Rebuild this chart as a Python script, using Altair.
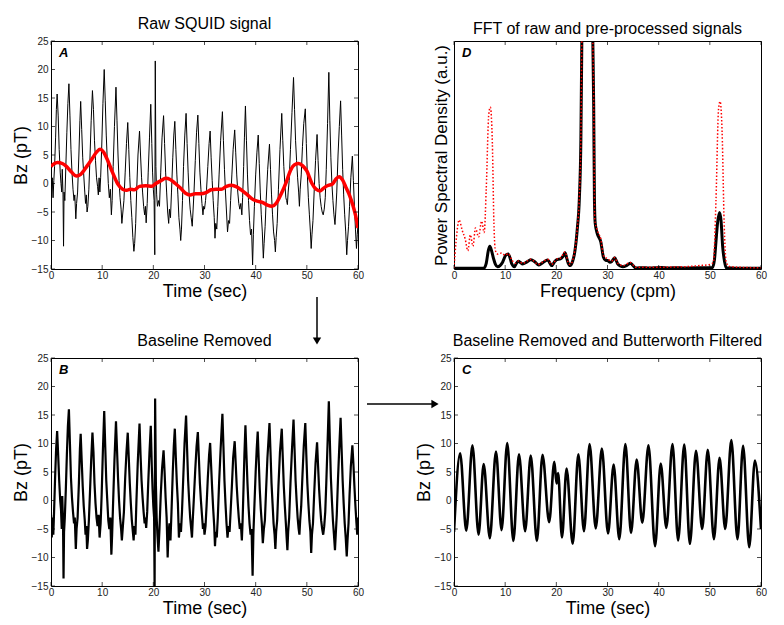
import altair as alt
import pandas as pd

# ---------------- data ----------------
x_ticks = [0, 10, 20, 30, 40, 50, 60]
bz_ticks = [-15, -10, -5, 0, 5, 10, 15, 20, 25]

# Panel A: raw SQUID signal (time s, Bz pT)
raw_pts = [
    (0.0, 2.0), (0.1, -2.0), (0.25, 1.0), (0.4, -2.5), (0.55, 0.5), (0.7, 3.0), (0.9, 8.0), (1.05, 13.0),
    (1.2, 15.7), (1.4, 12.0), (1.6, 6.0), (1.8, 2.0), (1.95, 0.0), (2.1, -1.5), (2.2, 2.5), (2.35, -2.0),
    (2.45, -11.0), (2.55, -1.5), (2.7, -3.0), (2.9, 3.0), (3.1, 9.0), (3.3, 14.0), (3.5, 17.5), (3.7, 12.0),
    (3.9, 6.0), (4.1, 2.0), (4.3, -1.0), (4.5, -3.0), (4.65, -2.0), (4.85, -6.2), (5.0, -3.5), (5.2, -1.5),
    (5.45, 5.0), (5.65, 11.0), (5.8, 14.4), (6.0, 9.5), (6.2, 4.5), (6.4, 1.5), (6.6, -1.5), (6.75, -3.5),
    (6.9, -2.0), (7.05, -5.0), (7.2, -4.0), (7.4, -1.0), (7.6, 4.0), (7.85, 11.0), (8.1, 16.3), (8.3, 13.0),
    (8.5, 7.5), (8.7, 4.0), (8.9, 1.0), (9.1, -0.5), (9.25, -2.0), (9.4, 1.0), (9.55, -1.5), (9.7, 1.0),
    (9.9, 6.0), (10.15, 14.0), (10.4, 20.0), (10.6, 14.5), (10.8, 8.5), (11.0, 4.0), (11.2, 0.0), (11.4, -2.5),
    (11.6, -1.0), (11.8, -5.5), (11.95, -3.0), (12.15, 3.0), (12.4, 10.0), (12.7, 16.9), (12.9, 11.0), (13.1, 5.0),
    (13.3, 0.5), (13.5, -2.5), (13.7, -4.5), (13.85, -7.0), (14.05, -5.0), (14.25, -3.0), (14.5, 2.0), (14.75, 7.0),
    (15.0, 10.7), (15.2, 6.0), (15.4, 1.0), (15.6, -3.0), (15.8, -6.0), (16.0, -9.5), (16.2, -11.9), (16.35, -10.5),
    (16.55, -7.0), (16.75, -1.0), (17.0, 5.0), (17.3, 9.2), (17.5, 5.0), (17.7, 1.0), (17.9, -1.5), (18.1, -4.0),
    (18.3, -5.5), (18.45, -4.0), (18.6, -6.9), (18.8, -3.5), (19.0, 2.0), (19.25, 8.0), (19.5, 13.9), (19.7, 7.0),
    (19.85, 2.0), (20.0, -1.0), (20.15, -3.0), (20.28, -12.5), (20.38, 21.5), (20.5, 3.0), (20.65, -2.0), (20.8, -4.0),
    (21.0, -3.0), (21.2, -4.0), (21.45, 2.0), (21.7, 8.0), (22.0, 11.9), (22.2, 7.0), (22.4, 2.0), (22.6, -1.5),
    (22.8, -5.0), (23.0, -7.0), (23.15, -4.5), (23.35, -6.0), (23.55, -1.5), (23.8, 4.5), (24.0, 8.5), (24.2, 10.9),
    (24.4, 6.0), (24.6, 1.5), (24.8, -2.0), (25.0, -6.0), (25.2, -8.0), (25.35, -10.0), (25.5, -8.0), (25.7, -3.0),
    (25.9, 3.0), (26.15, 8.5), (26.4, 12.3), (26.6, 7.0), (26.8, 2.0), (27.0, -2.0), (27.2, -4.5), (27.4, -6.0),
    (27.6, -7.5), (27.75, -5.0), (27.95, -1.5), (28.2, 4.0), (28.45, 9.0), (28.7, 12.0), (28.9, 7.0), (29.1, 2.0),
    (29.3, -1.0), (29.5, -3.5), (29.7, -5.5), (29.85, -4.0), (30.0, -4.5), (30.2, -3.0), (30.4, -1.0), (30.65, 3.0),
    (30.9, 7.0), (31.1, 9.2), (31.3, 4.5), (31.5, 0.5), (31.7, -3.0), (31.9, -6.0), (32.05, -9.6), (32.2, -7.0),
    (32.4, -8.0), (32.6, -4.0), (32.85, 1.5), (33.15, 7.5), (33.5, 12.6), (33.7, 7.5), (33.9, 2.5), (34.1, -1.5),
    (34.3, -5.0), (34.5, -8.5), (34.7, -6.5), (34.9, -7.0), (35.1, -3.0), (35.35, 1.5), (35.6, 6.0), (35.9, 9.4),
    (36.1, 5.5), (36.3, 1.5), (36.5, -1.5), (36.7, -3.5), (36.9, -4.5), (37.1, -3.5), (37.3, -5.5), (37.45, -2.5),
    (37.65, 3.0), (37.8, 8.0), (38.0, 13.6), (38.2, 7.5), (38.4, 1.5), (38.6, -3.0), (38.8, -6.5), (39.0, -9.0),
    (39.2, -8.0), (39.4, -14.3), (39.55, -9.0), (39.75, -4.0), (40.0, 1.5), (40.25, 5.5), (40.5, 8.5), (40.7, 3.5),
    (40.9, -1.5), (41.1, -5.5), (41.3, -8.5), (41.5, -13.1), (41.65, -10.5), (41.85, -7.5), (42.05, -3.0), (42.35, 2.5),
    (42.7, 6.9), (42.9, 2.5), (43.1, -2.0), (43.3, -5.5), (43.5, -8.5), (43.7, -10.0), (43.85, -12.0), (44.0, -9.5),
    (44.2, -7.0), (44.45, -1.0), (44.75, 6.0), (45.1, 12.3), (45.3, 7.5), (45.5, 3.0), (45.7, 0.0), (45.9, -2.5),
    (46.05, -3.0), (46.2, -3.7), (46.35, -1.5), (46.55, 0.5), (46.8, 6.0), (47.1, 12.5), (47.4, 18.6), (47.6, 13.0),
    (47.8, 7.5), (48.0, 4.0), (48.2, 1.0), (48.4, -1.5), (48.55, -4.0), (48.7, -1.0), (48.9, 1.5), (49.15, 6.5),
    (49.4, 10.5), (49.7, 13.1), (49.9, 7.0), (50.1, 1.5), (50.3, -2.5), (50.5, -5.5), (50.7, -8.5), (50.85, -11.4),
    (51.0, -9.0), (51.2, -6.5), (51.45, -1.0), (51.7, 4.0), (52.0, 8.6), (52.2, 4.0), (52.4, 0.0), (52.6, -2.5),
    (52.8, -4.0), (53.0, -5.0), (53.2, -5.5), (53.4, -4.5), (53.6, -2.5), (53.8, 2.5), (54.05, 10.5), (54.3, 19.5),
    (54.5, 11.0), (54.7, 4.5), (54.9, 0.0), (55.1, -3.0), (55.3, -5.5), (55.5, -7.2), (55.65, -5.0), (55.85, -1.5),
    (56.1, 5.0), (56.35, 10.0), (56.6, 14.5), (56.8, 8.5), (57.0, 2.5), (57.2, -2.0), (57.4, -5.5), (57.6, -8.5),
    (57.8, -12.5), (57.95, -10.0), (58.15, -7.5), (58.35, -4.0), (58.6, 1.0), (58.9, 4.8), (59.1, 0.5), (59.3, -4.0),
    (59.5, -8.0), (59.7, -11.4), (59.85, -9.0), (60.0, -7.2),
]

# Panel A: red baseline
baseline_pts = [
    (0.0, 3.0), (0.5, 3.4), (1.3, 3.7), (2.2, 3.5), (3.0, 3.0), (4.0, 2.0), (5.0, 1.3), (5.8, 1.6), (7.0, 3.0),
    (8.0, 4.3), (9.0, 5.6), (9.6, 6.0), (10.3, 5.5), (11.0, 4.2), (12.0, 2.0), (13.0, 0.0), (14.0, -1.0),
    (14.8, -1.2), (15.5, -1.0), (16.3, -1.1), (17.3, -0.5), (18.5, -0.4), (19.7, -0.5), (20.5, 0.0), (21.5, 0.5),
    (22.4, 0.9), (23.3, 0.7), (24.3, 0.0), (25.3, -0.8), (26.3, -1.7), (27.2, -2.0), (28.2, -1.8), (29.2, -1.8),
    (30.3, -1.6), (31.3, -1.1), (32.3, -1.0), (33.3, -1.0), (34.3, -0.5), (35.3, -0.3), (36.3, -0.6), (37.3, -1.2),
    (38.3, -1.9), (39.3, -2.7), (40.3, -3.1), (41.3, -3.3), (42.3, -3.8), (43.2, -4.0), (44.0, -3.5), (45.0, -1.8),
    (46.0, 0.3), (46.8, 2.3), (47.6, 3.3), (48.4, 3.5), (49.2, 3.1), (50.0, 2.2), (51.0, 0.0), (51.8, -1.0),
    (52.6, -1.3), (53.3, -0.8), (54.0, -0.4), (55.0, -0.1), (55.7, 0.8), (56.3, 1.2), (57.0, 0.6), (57.7, -0.8),
    (58.4, -2.2), (59.0, -3.8), (59.5, -5.5), (60.0, -7.8),
]

# Panel B: baseline removed
detrended_pts = [
    (0.0, -2.5), (0.15, -6.5), (0.3, -3.0), (0.45, -6.0), (0.6, -2.0), (0.8, 4.0), (1.0, 9.0), (1.2, 12.2),
    (1.4, 8.0), (1.6, 3.5), (1.8, 0.0), (1.95, -1.5), (2.1, -5.0), (2.2, 0.8), (2.35, -4.0), (2.45, -13.7),
    (2.55, -5.5), (2.7, -3.0), (2.9, 2.0), (3.1, 8.0), (3.3, 13.0), (3.5, 16.0), (3.7, 10.0), (3.9, 4.0),
    (4.1, 0.5), (4.3, -2.0), (4.5, -4.0), (4.65, -3.0), (4.85, -8.5), (5.0, -5.0), (5.2, -3.0), (5.45, 3.0),
    (5.65, 9.0), (5.8, 11.7), (6.0, 7.0), (6.2, 2.5), (6.4, -1.0), (6.6, -3.5), (6.75, -6.0), (6.9, -4.5),
    (7.05, -8.5), (7.2, -7.0), (7.4, -3.5), (7.6, 1.0), (7.85, 7.0), (8.1, 11.9), (8.3, 8.5), (8.5, 3.0),
    (8.7, -0.5), (8.9, -3.0), (9.1, -4.5), (9.3, -2.5), (9.5, -6.5), (9.7, -4.0), (9.9, 1.0), (10.15, 9.0),
    (10.4, 15.7), (10.6, 9.5), (10.8, 3.5), (11.0, 0.0), (11.2, -3.5), (11.4, -5.0), (11.6, -3.0), (11.8, -9.5),
    (11.95, -6.0), (12.15, 0.0), (12.4, 7.0), (12.7, 13.9), (12.9, 9.0), (13.1, 4.0), (13.3, 0.0), (13.5, -3.0),
    (13.7, -5.0), (13.85, -7.0), (14.05, -4.5), (14.25, -2.0), (14.5, 4.0), (14.75, 8.5), (15.0, 11.9), (15.2, 7.5),
    (15.4, 3.0), (15.6, -0.5), (15.8, -3.5), (16.0, -5.5), (16.15, -7.0), (16.3, -4.5), (16.5, -6.0), (16.7, 0.0),
    (16.95, 6.5), (17.3, 13.5), (17.5, 8.0), (17.7, 3.5), (17.9, 0.5), (18.1, -2.0), (18.3, -4.0), (18.45, -3.0),
    (18.6, -4.8), (18.8, -2.0), (19.0, 3.0), (19.25, 8.5), (19.5, 13.1), (19.7, 6.0), (19.85, 2.0), (20.0, -1.0),
    (20.15, -3.0), (20.25, -15.5), (20.35, 17.9), (20.5, 3.0), (20.65, -3.0), (20.8, -6.0), (21.0, -9.0), (21.2, -5.0),
    (21.45, 1.0), (21.7, 5.5), (22.0, 8.8), (22.2, 5.0), (22.4, 0.5), (22.6, -3.0), (22.8, -10.0), (22.95, -6.0),
    (23.15, -4.0), (23.35, -7.0), (23.55, -2.0), (23.8, 5.0), (24.0, 9.5), (24.2, 12.6), (24.4, 7.5), (24.6, 3.0),
    (24.8, -0.5), (25.0, -6.5), (25.2, -4.0), (25.4, -5.5), (25.6, -2.0), (25.85, 4.0), (26.1, 10.0), (26.4, 14.9),
    (26.6, 9.0), (26.8, 3.5), (27.0, 0.0), (27.2, -3.0), (27.4, -5.0), (27.55, -6.5), (27.7, -3.5), (27.9, 0.0),
    (28.2, 5.5), (28.45, 9.5), (28.7, 12.0), (28.9, 7.5), (29.1, 3.0), (29.3, 0.0), (29.5, -2.5), (29.7, -5.0),
    (29.85, -4.0), (30.0, -6.0), (30.2, -4.5), (30.4, -1.0), (30.65, 4.0), (30.9, 8.0), (31.1, 10.1), (31.3, 6.0),
    (31.5, 2.0), (31.7, -1.5), (31.9, -4.5), (32.05, -8.0), (32.2, -5.5), (32.4, -6.5), (32.6, -3.0), (32.85, 3.0),
    (33.15, 9.0), (33.5, 15.2), (33.7, 9.5), (33.9, 3.5), (34.1, -0.5), (34.3, -4.0), (34.5, -6.5), (34.7, -4.5),
    (34.9, -5.5), (35.1, -2.0), (35.35, 2.5), (35.6, 7.5), (35.9, 10.4), (36.1, 6.5), (36.3, 2.5), (36.5, -0.5),
    (36.7, -3.0), (36.9, -5.0), (37.1, -4.0), (37.3, -7.0), (37.45, -3.5), (37.65, 3.0), (37.8, 8.0), (38.0, 13.2),
    (38.2, 8.0), (38.4, 3.0), (38.6, -1.0), (38.8, -4.0), (39.0, -6.0), (39.2, -5.0), (39.4, -13.2), (39.55, -6.0),
    (39.75, -1.0), (40.0, 5.0), (40.2, 9.0), (40.4, 12.1), (40.6, 7.0), (40.8, 2.0), (41.0, -1.5), (41.2, -4.0),
    (41.4, -7.5), (41.6, -5.0), (41.8, -3.5), (42.0, 1.0), (42.3, 7.5), (42.7, 13.6), (42.9, 8.5), (43.1, 3.0),
    (43.3, -0.5), (43.5, -4.0), (43.7, -6.0), (43.85, -8.5), (44.0, -5.5), (44.2, -3.5), (44.45, 2.5), (44.75, 8.5),
    (45.1, 12.6), (45.3, 7.5), (45.5, 2.5), (45.7, -1.0), (45.9, -4.0), (46.05, -6.5), (46.2, -8.7), (46.35, -5.5),
    (46.55, -3.0), (46.8, 3.0), (47.1, 9.0), (47.4, 14.2), (47.6, 9.0), (47.8, 3.5), (48.0, 0.0), (48.2, -3.0),
    (48.4, -5.0), (48.55, -6.0), (48.7, -3.5), (48.9, -1.0), (49.15, 4.5), (49.4, 9.5), (49.7, 13.6), (49.9, 8.0),
    (50.1, 3.0), (50.3, -0.5), (50.5, -3.5), (50.7, -5.5), (50.85, -9.2), (51.0, -6.0), (51.2, -4.0), (51.45, 1.5),
    (51.7, 6.5), (52.0, 10.2), (52.2, 6.0), (52.4, 2.0), (52.6, -1.0), (52.8, -3.5), (53.0, -5.0), (53.2, -6.0),
    (53.4, -4.5), (53.6, -2.0), (53.8, 3.0), (54.05, 10.0), (54.3, 17.4), (54.5, 10.5), (54.7, 4.0), (54.9, 0.0),
    (55.1, -3.5), (55.3, -6.0), (55.5, -8.7), (55.65, -6.0), (55.85, -2.5), (56.1, 4.0), (56.35, 9.5), (56.6, 14.5),
    (56.8, 9.0), (57.0, 3.5), (57.2, -0.5), (57.4, -4.0), (57.6, -6.5), (57.8, -9.8), (57.95, -7.0), (58.15, -4.0),
    (58.35, 1.0), (58.6, 6.0), (58.9, 9.7), (59.1, 6.5), (59.3, 2.5), (59.5, -1.0), (59.7, -4.0), (59.85, -6.0),
    (60.0, -3.0),
]

# Panel C: baseline removed and Butterworth filtered (peaks and troughs)
filtered_pts = [
    (0.0, -5.5), (1.2, 8.3), (2.4, -5.3), (3.6, 9.7), (4.8, -6.0), (5.8, 6.4), (7.0, -6.6), (8.2, 8.6),
    (9.3, -5.2), (10.4, 10.1), (11.6, -7.1), (12.7, 8.1), (13.9, -5.4), (15.0, 7.9), (16.2, -7.1), (17.3, 8.0),
    (18.6, -3.8), (19.6, 6.8), (20.05, 3.0), (20.35, 4.8), (21.1, -6.5), (22.0, 5.6), (23.2, -7.6), (24.3, 8.1),
    (25.4, -5.4), (26.5, 9.9), (27.7, -4.9), (28.9, 9.1), (30.1, -5.8), (31.2, 6.3), (32.3, -6.8), (33.5, 9.9),
    (34.6, -5.7), (35.7, 7.2), (36.8, -3.9), (38.0, 9.7), (39.3, -8.0), (40.4, 6.5), (41.5, -4.8), (42.7, 9.9),
    (43.8, -7.0), (45.0, 9.8), (46.1, -7.6), (47.3, 8.7), (48.5, -5.0), (49.6, 8.9), (50.8, -6.8), (51.9, 7.5),
    (53.0, -5.0), (54.2, 10.6), (55.4, -6.8), (56.5, 9.6), (57.7, -8.2), (58.8, 7.0), (60.0, -5.0),
]

# Panel D: PSD (frequency cpm, arbitrary units 0-100 visible)
psd_processed = [
    (0.0, 0.3), (5.8, 0.3), (6.3, 2.5), (6.7, 8.0), (7.0, 10.0), (7.4, 7.5), (7.75, 4.4), (8.1, 2.0), (8.5, 1.0),
    (9.0, 1.5), (9.5, 3.0), (10.1, 6.0), (10.6, 6.6), (11.0, 4.5), (11.3, 2.2), (11.8, 1.0), (12.2, 2.5),
    (12.6, 3.4), (13.0, 2.8), (13.4, 2.2), (14.2, 3.0), (15.0, 4.1), (15.8, 3.2), (16.5, 1.8), (17.3, 2.7),
    (18.3, 4.0), (19.1, 1.5), (19.6, 3.0), (20.1, 4.1), (20.8, 4.4), (21.3, 5.5), (21.7, 7.1), (22.0, 5.0),
    (22.3, 2.7), (22.7, 1.5), (23.2, 3.5), (23.6, 7.4), (24.1, 17.7), (24.5, 31.0), (24.8, 57.0), (25.0, 105.0),
    (26.0, 400.0), (27.1, 105.0), (27.3, 72.0), (27.45, 30.0), (27.6, 20.0), (28.0, 15.5), (28.7, 11.8),
    (29.2, 5.2), (29.6, 3.8), (30.0, 3.7), (30.5, 3.0), (30.8, 3.2), (31.4, 4.9), (31.8, 3.2), (32.0, 2.2),
    (32.5, 1.4), (33.0, 1.0), (33.8, 1.6), (34.5, 2.5), (35.0, 1.5), (35.5, 0.4), (37.0, 0.6), (38.0, 0.4),
    (39.0, 0.5), (40.5, 0.7), (42.0, 0.4), (43.5, 0.6), (45.0, 0.4), (47.0, 0.5), (49.0, 0.5), (50.5, 0.6),
    (50.9, 4.0), (51.2, 12.0), (51.5, 20.0), (51.9, 24.8), (52.2, 21.0), (52.5, 10.0), (52.9, 3.0), (53.2, 0.5),
    (55.0, 0.3), (60.0, 0.3),
]
psd_raw = [
    (0.0, 0.5), (0.4, 12.0), (1.0, 21.5), (1.6, 17.0), (2.2, 13.0), (2.7, 8.0), (3.2, 15.0), (3.7, 10.0),
    (4.2, 18.0), (4.8, 14.0), (5.4, 21.0), (5.9, 16.0), (6.3, 35.0), (6.8, 68.0), (7.1, 71.0), (7.5, 55.0),
    (7.8, 20.0), (8.1, 8.0), (8.6, 6.5), (9.3, 7.0), (10.0, 6.0), (10.6, 6.8), (11.3, 4.0), (12.0, 2.5),
    (12.6, 3.5), (13.4, 2.5), (15.0, 4.3), (16.5, 2.0), (17.3, 3.0), (18.3, 4.3), (19.1, 2.0), (20.1, 4.4),
    (20.8, 4.8), (21.7, 7.5), (22.3, 3.0), (22.7, 2.0), (23.6, 8.0), (24.1, 18.0), (24.5, 32.0), (24.8, 58.0),
    (25.0, 105.0), (26.0, 400.0), (27.1, 105.0), (27.3, 75.0), (27.5, 22.0), (28.0, 17.0), (28.7, 13.0),
    (29.2, 6.0), (30.0, 4.5), (30.8, 3.5), (31.4, 5.0), (32.0, 2.5), (33.0, 1.5), (34.5, 2.8), (35.5, 0.8),
    (40.0, 0.8), (45.0, 1.0), (48.0, 1.5), (50.0, 2.0), (50.7, 3.0), (51.2, 30.0), (51.7, 70.0), (52.0, 73.5),
    (52.4, 60.0), (52.8, 20.0), (53.2, 3.0), (54.0, 1.0), (60.0, 0.5),
]

# ---------------- chart construction ----------------
W, H = 307, 228
FONT = "Liberation Sans"


def df(pts):
    return pd.DataFrame(pts, columns=["t", "v"])


def xenc(title):
    return alt.X("t:Q", scale=alt.Scale(domain=[0, 60], nice=False, zero=False),
                 axis=alt.Axis(values=x_ticks, title=title, ticks=False, domain=False, grid=False,
                               labelFontSize=10, labelColor="#222", labelPadding=1,
                               titleFontSize=18, titleFontWeight="normal", titleColor="black",
                               titlePadding=2, labelFlush=False))


def yenc_bz():
    return alt.Y("v:Q", scale=alt.Scale(domain=[-15, 25], nice=False, zero=False),
                 axis=alt.Axis(values=bz_ticks, title="Bz (pT)", ticks=False, domain=False, grid=False,
                               labelFontSize=10, labelColor="#222", labelPadding=3,
                               titleFontSize=18, titleFontWeight="normal", titleColor="black",
                               titlePadding=1, labelFlush=False))


def yenc_psd():
    return alt.Y("v:Q", scale=alt.Scale(domain=[0, 100], nice=False, zero=False),
                 axis=alt.Axis(labels=False, ticks=False, domain=False, grid=False,
                               title="Power Spectral Density (a.u.)", titleFontSize=17, titleFontWeight="normal",
                               titleColor="black", titlePadding=4))


def tick_layers(xtitle, ychannel=None):
    xs = pd.DataFrame({"t": x_ticks})
    layers = [
        alt.Chart(xs).mark_tick(orient="vertical", size=4, thickness=1, color="black").encode(
            x=xenc(xtitle), y=alt.value(H - 2)),
        alt.Chart(xs).mark_tick(orient="vertical", size=4, thickness=1, color="black").encode(
            x=xenc(xtitle), y=alt.value(2)),
    ]
    if ychannel is not None:
        ys = pd.DataFrame({"v": bz_ticks})
        layers += [
            alt.Chart(ys).mark_tick(orient="horizontal", size=4, thickness=1, color="black").encode(
                y=ychannel(), x=alt.value(2)),
            alt.Chart(ys).mark_tick(orient="horizontal", size=4, thickness=1, color="black").encode(
                y=ychannel(), x=alt.value(W - 2)),
        ]
    return layers


def letter(ch):
    return alt.Chart(pd.DataFrame({"l": [ch]})).mark_text(
        fontSize=13, fontWeight="bold", fontStyle="italic", align="left", baseline="top", color="black"
    ).encode(x=alt.value(8), y=alt.value(6), text="l:N")


def title(txt):
    return alt.TitleParams(txt, fontSize=16, fontWeight="normal", font=FONT, color="black", offset=4)


# Panel A
a_raw = alt.Chart(df(raw_pts)).mark_line(color="black", strokeWidth=1, clip=True).encode(
    x=xenc("Time (sec)"), y=yenc_bz(), order="t:Q")
a_base = alt.Chart(df(baseline_pts)).mark_line(color="#ff0000", strokeWidth=3.5, interpolate="monotone", clip=True).encode(
    x=xenc("Time (sec)"), y=yenc_bz(), order="t:Q")
arrow_v = alt.Chart(pd.DataFrame({"k": [0]})).mark_rule(color="black", strokeWidth=1.5).encode(
    x=alt.value(266), y=alt.value(256), y2=alt.value(297))
arrow_v_head = alt.Chart(pd.DataFrame({"k": [0]})).mark_point(
    shape="triangle-down", filled=True, color="black", size=70, opacity=1).encode(
    x=alt.value(266), y=alt.value(300))
panel_a = alt.layer(a_raw, a_base, *tick_layers("Time (sec)", yenc_bz), letter("A"), arrow_v, arrow_v_head).properties(
    width=W, height=H, title=title("Raw SQUID signal"))

# Panel D
d_proc = alt.Chart(df(psd_processed)).mark_line(color="black", strokeWidth=3, interpolate="monotone", clip=True).encode(
    x=xenc("Frequency (cpm)"), y=yenc_psd(), order="t:Q")
d_raw = alt.Chart(df(psd_raw)).mark_line(color="#ff0000", strokeWidth=1.5, strokeDash=[1.5, 2],
                                         interpolate="monotone", clip=True).encode(
    x=xenc("Frequency (cpm)"), y=yenc_psd(), order="t:Q")
panel_d = alt.layer(d_proc, d_raw, *tick_layers("Frequency (cpm)"), letter("D")).properties(
    width=W, height=H, title=title("FFT of raw and pre-processed signals"))

# Panel B
b_line = alt.Chart(df(detrended_pts)).mark_line(color="black", strokeWidth=2.2, clip=True).encode(
    x=xenc("Time (sec)"), y=yenc_bz(), order="t:Q")
arrow_h = alt.Chart(pd.DataFrame({"k": [0]})).mark_rule(color="black", strokeWidth=1.5).encode(
    x=alt.value(316), x2=alt.value(382), y=alt.value(46))
arrow_h_head = alt.Chart(pd.DataFrame({"k": [0]})).mark_point(
    shape="triangle-right", filled=True, color="black", size=70, opacity=1).encode(
    x=alt.value(384), y=alt.value(46))
panel_b = alt.layer(b_line, *tick_layers("Time (sec)", yenc_bz), letter("B"), arrow_h, arrow_h_head).properties(
    width=W, height=H, title=title("Baseline Removed"))

# Panel C
c_line = alt.Chart(df(filtered_pts)).mark_line(color="black", strokeWidth=2.6, interpolate="monotone", clip=True).encode(
    x=xenc("Time (sec)"), y=yenc_bz(), order="t:Q")
panel_c = alt.layer(c_line, *tick_layers("Time (sec)", yenc_bz), letter("C")).properties(
    width=W, height=H, title=title("Baseline Removed and Butterworth Filtered"))

chart = alt.concat(panel_a, panel_d, panel_b, panel_c, columns=2,
                   spacing={"row": 89, "column": 96}, bounds="flush").properties(
    padding={"left": 3, "top": 7, "right": 5, "bottom": 5}
).configure(font=FONT).configure_view(stroke="black", strokeWidth=1)

chart.save("out.html", embed_options={"renderer": "svg", "actions": False})
